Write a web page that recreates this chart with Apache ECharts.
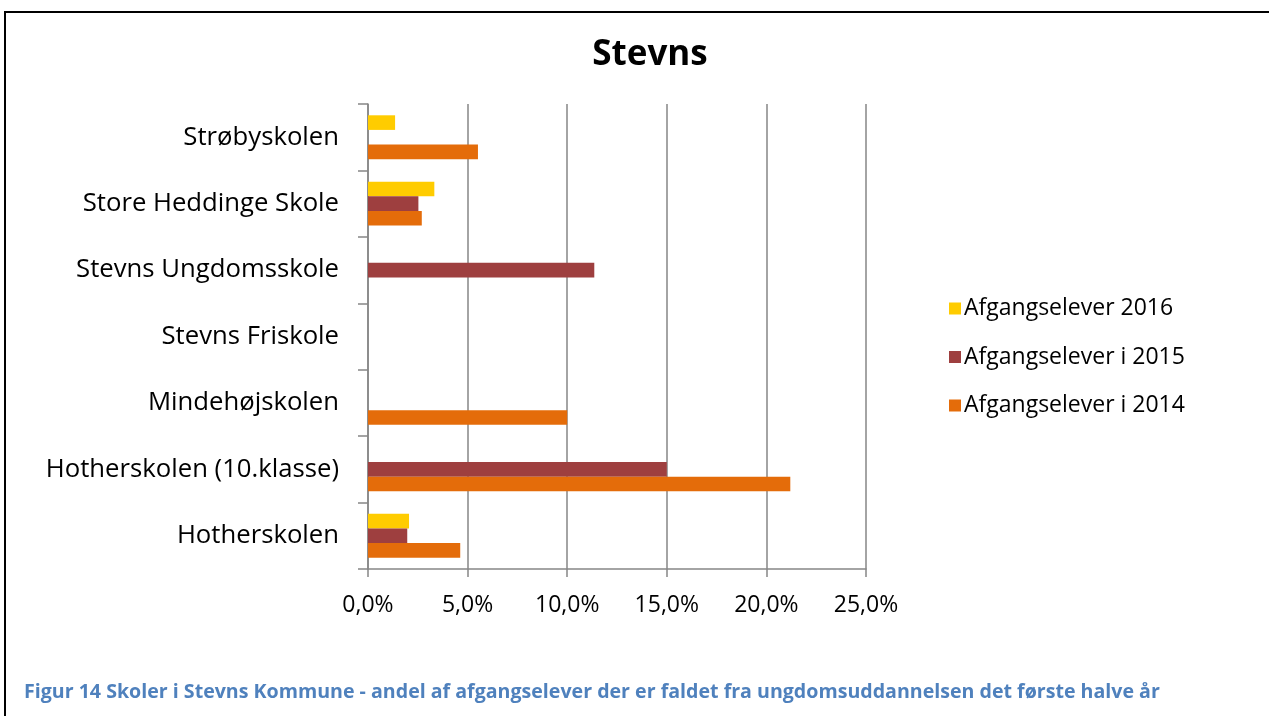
<!DOCTYPE html>
<html>
<head>
<meta charset="utf-8">
<script src="https://cdn.jsdelivr.net/npm/echarts@6/dist/echarts.min.js"></script>
<style>
html, body { margin: 0; padding: 0; background: #fff; }
#chart { width: 1269px; height: 716px; }
</style>
</head>
<body>
<div id="chart"></div>
<script>
// skoler, nederst -> øverst (kategoriaksen tegnes nedefra)
const schools = ['Hotherskolen', 'Hotherskolen (10.klasse)', 'Mindehøjskolen', 'Stevns Friskole',
  'Stevns Ungdomsskole', 'Store Heddinge Skole', 'Strøbyskolen']
const names = ['Afgangselever 2016', 'Afgangselever i 2015', 'Afgangselever i 2014']
const y2016 = [2.06, 0, 0, 0, 0, 3.33, 1.36]
const y2015 = [1.97, 15.0, 0, 0, 11.36, 2.53, 0]
const y2014 = [4.63, 21.2, 10.0, 0, 0, 2.7, 5.52]
const xTicks = [0, 5, 10, 15, 20, 25]
const colors = ['#FFCC00', '#9E3F3F', '#E46C0A']

const font = '"Open Sans", "Noto Sans", sans-serif'
const pct = v => v.toFixed(1).replace('.', ',') + '%'

let chart = echarts.init(document.getElementById('chart'))
chart.setOption({
  animation: false,
  textStyle: { fontFamily: font },
  title: [
    {
      text: 'Stevns',
      left: 645,
      top: 33,
      textAlign: 'center',
      textStyle: { fontSize: 35, fontWeight: 'bold', color: '#000', fontFamily: font }
    },
    {
      text: 'Figur 14 Skoler i Stevns Kommune - andel af afgangselever der er faldet fra ungdomsuddannelsen det første halve år',
      left: 19,
      top: 677,
      textStyle: { fontSize: 19.6, fontWeight: 'bold', color: '#4F81BD', fontFamily: font }
    }
  ],
  graphic: [{
    type: 'rect',
    shape: { x: 5, y: 12, width: 1300, height: 800 },
    style: { fill: 'none', stroke: '#000', lineWidth: 2 },
    silent: true
  }],
  legend: {
    orient: 'vertical',
    left: 944,
    top: 292,
    itemWidth: 12,
    itemHeight: 12,
    itemGap: 25.5,
    icon: 'rect',
    data: names,
    textStyle: { fontSize: 23, color: '#000', fontFamily: font, padding: [0, 0, 0, -2] }
  },
  grid: { left: 368, right: 403, top: 104, bottom: 147 },
  xAxis: {
    type: 'value',
    min: xTicks[0],
    max: xTicks[xTicks.length - 1],
    interval: 5,
    axisLine: { show: true, lineStyle: { color: '#868686', width: 1.5 } },
    axisTick: { show: true, length: 8, lineStyle: { color: '#868686', width: 1.5 } },
    splitLine: { show: true, lineStyle: { color: '#868686', width: 1.5 } },
    axisLabel: { formatter: pct, fontSize: 23, color: '#000', margin: 25, fontFamily: font }
  },
  yAxis: {
    type: 'category',
    data: schools,
    axisLine: { show: true, lineStyle: { color: '#868686', width: 1.5 } },
    axisTick: { show: true, length: 10, lineStyle: { color: '#868686', width: 1.5 } },
    axisLabel: { fontSize: 25.7, color: '#000', margin: 29, fontFamily: font, padding: [5, 0, 0, 0] }
  },
  series: [y2016, y2015, y2014].map((d, i) => {
    return {
      name: names[i],
      type: 'bar',
      data: d,
      barGap: '0%',
      barCategoryGap: '34%',
      itemStyle: { color: colors[i] }
    }
  })
})
</script>
</body>
</html>
